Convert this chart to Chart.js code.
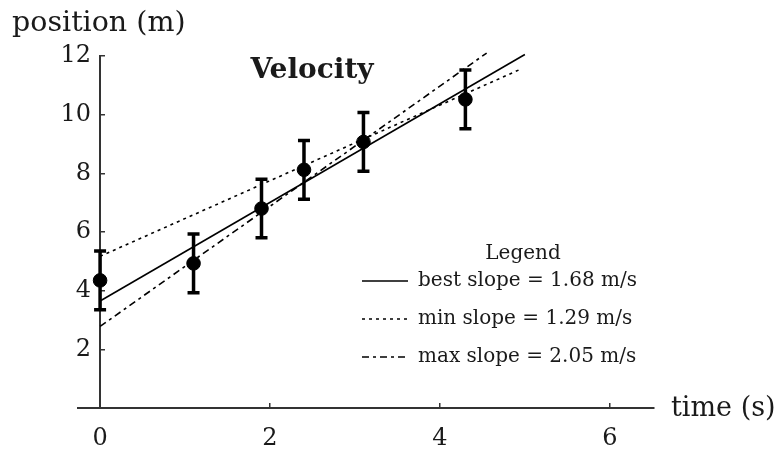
<!DOCTYPE html>
<html><head><meta charset="utf-8">
<script src="https://cdn.jsdelivr.net/npm/chart.js@4/dist/chart.umd.min.js"></script>
<style>html,body{margin:0;padding:0;background:#fff}#wrap{width:782px;height:454px}</style>
</head><body><div id="wrap"><canvas id="c" width="782" height="454"></canvas></div>
<script>
const timeValues = [0, 1.1, 1.9, 2.4, 3.1, 4.3];
const positionValues = [4.35, 4.93, 6.8, 8.12, 9.07, 10.52];
const positionErrors = [1, 1, 1, 1, 1, 1];
const bestLineX = [0, 5];
const bestLineY = [3.65, 12.05];
const minLineX = [0, 4.95];
const minLineY = [5.17, 11.55];
const maxLineX = [0, 4.55];
const maxLineY = [2.78, 12.1];
const xTickValues = [0, 2, 4, 6];
const yTickValues = [2, 4, 6, 8, 10, 12];
const legendLabels = ['best slope = 1.68 m/s', 'min slope = 1.29 m/s', 'max slope = 2.05 m/s'];
const chartTitle = 'Velocity';
const xAxisTitle = 'time (s)';
const yAxisTitle = 'position (m)';
const legendTitle = 'Legend';

const SERIF = '"DejaVu Serif", serif';
const INK = '#1a1a1a';
const AXIS = '#333';

function pts(xs, ys) { return xs.map((x, i) => ({x: x, y: ys[i]})); }

const lineStyles = [
  {dash: []},
  {dash: [3, 4]},
  {dash: [7, 4, 3, 4]}
];

// shift y tick labels a little to the left of the crossing axis
const yLabelGap = {
  id: 'yLabelGap',
  beforeDraw(chart) {
    const s = chart.scales.y;
    const items = s.getLabelItems();
    if (!s._gapDone) {
      items.forEach(it => { it.options.translation[0] -= 9; });
      s._gapDone = true;
    }
  },
  afterUpdate(chart) { chart.scales.y._gapDone = false; }
};

const errorBars = {
  id: 'errorBars',
  afterDatasetsDraw(chart) {
    const {ctx, scales: {x, y}} = chart;
    ctx.save();
    ctx.strokeStyle = '#000';
    ctx.lineWidth = 3.5;
    timeValues.forEach((t, i) => {
      const px = x.getPixelForValue(t);
      const top = y.getPixelForValue(positionValues[i] + positionErrors[i]);
      const bot = y.getPixelForValue(positionValues[i] - positionErrors[i]);
      ctx.beginPath();
      ctx.moveTo(px, top); ctx.lineTo(px, bot);
      ctx.moveTo(px - 6, top); ctx.lineTo(px + 6, top);
      ctx.moveTo(px - 6, bot); ctx.lineTo(px + 6, bot);
      ctx.stroke();
    });
    ctx.restore();
  }
};

const texts = {
  id: 'texts',
  afterDraw(chart) {
    const {ctx} = chart;
    ctx.save();
    ctx.fillStyle = INK;
    ctx.textBaseline = 'alphabetic';
    ctx.font = 'bold 28px ' + SERIF;
    ctx.textAlign = 'center';
    ctx.fillText(chartTitle, 312, 78);
    ctx.font = '28.5px ' + SERIF;
    ctx.textAlign = 'left';
    ctx.fillText(yAxisTitle, 12, 31);
    ctx.font = '27px ' + SERIF;
    ctx.fillText(xAxisTitle, 671, 416);
    // legend
    ctx.font = '20px ' + SERIF;
    ctx.textAlign = 'center';
    ctx.fillText(legendTitle, 523, 259);
    ctx.textAlign = 'left';
    ctx.textBaseline = 'middle';
    const ys = [281, 319, 357];
    const lineSets = chart.data.datasets.filter(d => d.isFit);
    lineSets.forEach((d, i) => {
      ctx.save();
      ctx.strokeStyle = d.borderColor;
      ctx.lineWidth = d.borderWidth;
      ctx.setLineDash(d.borderDash || []);
      ctx.beginPath();
      ctx.moveTo(362, ys[i]); ctx.lineTo(408, ys[i]);
      ctx.stroke();
      ctx.restore();
      ctx.fillText(d.label, 418, ys[i]);
    });
    ctx.restore();
  }
};

const fitDataset = (label, xs, ys, style) => ({
  type: 'line', label: label, isFit: true,
  data: pts(xs, ys),
  borderColor: '#000', borderWidth: 1.6, borderDash: style.dash,
  pointRadius: 0, fill: false, tension: 0, clip: false
});

new Chart(document.getElementById('c'), {
  data: {
    datasets: [
      fitDataset(legendLabels[0], bestLineX, bestLineY, lineStyles[0]),
      fitDataset(legendLabels[1], minLineX, minLineY, lineStyles[1]),
      fitDataset(legendLabels[2], maxLineX, maxLineY, lineStyles[2]),
      {
        type: 'scatter', label: 'data',
        data: pts(timeValues, positionValues),
        backgroundColor: '#000', borderColor: '#000',
        pointRadius: 6.8, pointHoverRadius: 6.8, clip: false
      }
    ]
  },
  options: {
    responsive: false,
    animation: false,
    devicePixelRatio: 1,
    layout: {padding: {left: 78, right: 128, top: 56, bottom: 46}},
    plugins: {legend: {display: false}, tooltip: {enabled: false}, title: {display: false}},
    scales: {
      x: {
        type: 'linear', min: -0.26, max: 6.52,
        position: {y: 0},
        afterBuildTicks: s => { s.ticks = xTickValues.map(v => ({value: v})); },
        border: {display: true, color: AXIS, width: 2},
        grid: {drawOnChartArea: false, drawTicks: true, tickLength: -6, color: AXIS, lineWidth: 1.5},
        ticks: {font: {family: SERIF, size: 24}, color: INK, padding: 22, maxRotation: 0}
      },
      y: {
        type: 'linear', min: 0, max: 12,
        position: {x: 0},
        afterBuildTicks: s => { s.ticks = yTickValues.map(v => ({value: v})); },
        border: {display: true, color: AXIS, width: 2},
        grid: {drawOnChartArea: false, drawTicks: true, tickLength: -6, color: AXIS, lineWidth: 1.5},
        ticks: {font: {family: SERIF, size: 24}, color: INK, padding: 15}
      }
    }
  },
  plugins: [yLabelGap, errorBars, texts]
});
</script>
</body></html>
